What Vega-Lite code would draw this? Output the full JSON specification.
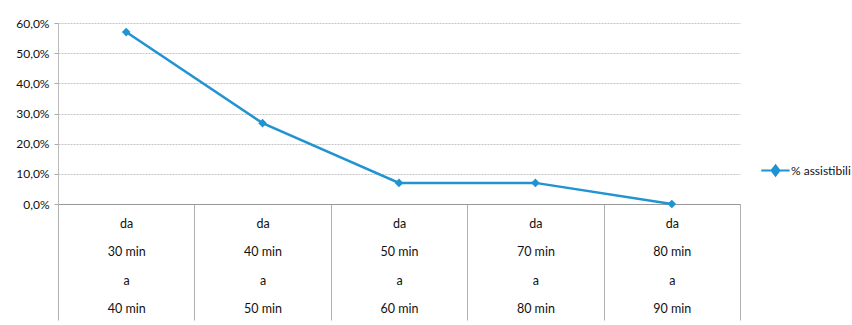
{
  "$schema": "https://vega.github.io/schema/vega-lite/v6.json",
  "width": 682,
  "height": 181,
  "autosize": {"type": "none"},
  "padding": {"left": 58, "top": 23, "right": 112, "bottom": 121},
  "background": "white",
  "config": {
    "font": "Lato",
    "view": {"stroke": null}
  },
  "data": {
    "values": [
      {"cat": "da\n30 min\na\n40 min", "serie": "% assistibili", "val": 0.57},
      {"cat": "da\n40 min\na\n50 min", "serie": "% assistibili", "val": 0.268},
      {"cat": "da\n50 min\na\n60 min", "serie": "% assistibili", "val": 0.07},
      {"cat": "da\n70 min\na\n80 min", "serie": "% assistibili", "val": 0.07},
      {"cat": "da\n80 min\na\n90 min", "serie": "% assistibili", "val": 0.0}
    ]
  },
  "mark": {"type": "line", "strokeWidth": 2.5, "point": {"shape": "diamond", "size": 75, "filled": true}},
  "encoding": {
    "x": {
      "field": "cat",
      "type": "nominal",
      "sort": null,
      "scale": {"type": "band", "paddingInner": 0, "paddingOuter": 0},
      "axis": {
        "title": null,
        "labelAngle": 0,
        "labelExpr": "split(datum.label, '\\n')",
        "labelLineHeight": 28.5,
        "labelFontSize": 12.5,
        "labelColor": "#111",
        "tickBand": "extent",
        "tickSize": 116,
        "tickColor": "#b0b0b0",
        "labelPadding": -103,
        "domainColor": "#999",
        "grid": false
      }
    },
    "y": {
      "field": "val",
      "type": "quantitative",
      "scale": {"domain": [0, 0.6]},
      "axis": {
        "title": null,
        "values": [0, 0.1, 0.2, 0.3, 0.4, 0.5, 0.6],
        "labelExpr": "replace(format(datum.value, '.1%'), '.', ',')",
        "labelFontSize": 12,
        "labelColor": "#111",
        "tickSize": 4,
        "tickColor": "#aaa",
        "labelPadding": 5,
        "domainColor": "#bbb",
        "gridColor": "#c4c4c4",
        "gridDash": [2, 1],
        "gridWidth": 1
      }
    },
    "color": {
      "field": "serie",
      "type": "nominal",
      "scale": {"range": ["#2093d2"]},
      "legend": {
        "title": null,
        "orient": "none",
        "legendX": 700,
        "legendY": 133,
        "symbolType": "M-0.85,0L1.3,0M0.23,-0.38L0.53,0L0.23,0.38L-0.07,0Z",
        "symbolSize": 700,
        "symbolStrokeWidth": 2,
        "symbolFillColor": "#2093d2",
        "labelFontSize": 12,
        "labelColor": "#111",
        "labelOffset": 4
      }
    }
  }
}
